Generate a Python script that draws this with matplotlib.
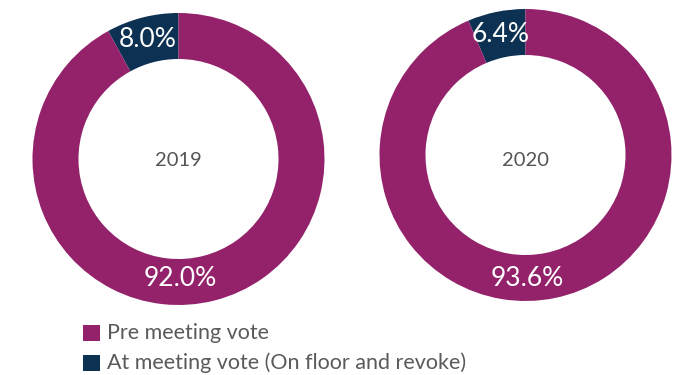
import numpy as np
import matplotlib.pyplot as plt
from matplotlib.patches import Rectangle

plt.rcParams['font.family'] = ['Lato', 'DejaVu Sans']

years = ['2019', '2020']
at_meeting = [8.0, 6.4]
pre_meeting = [92.0, 93.6]
series_names = ['Pre meeting vote', 'At meeting vote (On floor and revoke)']
colors = ['#93226b', '#0c3152']

W, H = 684, 375
centers = [(178.5, 159), (525.5, 155)]
R = 146

fig = plt.figure(figsize=(W / 100, H / 100), dpi=100)

for year, at, pre, (cx, cy) in zip(years, at_meeting, pre_meeting, centers):
	ax = fig.add_axes([(cx - R) / W, (H - cy - R) / H, 2 * R / W, 2 * R / H])
	ax.pie([at, pre], colors=[colors[1], colors[0]], startangle=90,
		counterclock=True, radius=1, wedgeprops=dict(width=0.315, linewidth=0))
	ax.set_xlim(-1, 1)
	ax.set_ylim(-1, 1)
	ax.set_aspect('equal')
	ax.axis('off')

	rmid = 1 - 0.315 / 2
	ang = np.deg2rad(90 + at / 100 * 360 / 2)
	ax.text(rmid * np.cos(ang), rmid * np.sin(ang), '%.1f%%' % at,
		ha='center', va='center', color='white', fontsize=19)
	# big share label and year label sit at the same height in both rings
	fig.text((cx + 2) / W, (H - 278) / H, '%.1f%%' % pre, ha='center', va='center',
		color='white', fontsize=19)
	fig.text(cx / W, (H - 160) / H, year, ha='center', va='center',
		color='#555555', fontsize=14.5)

# legend
rows = [333, 363]
for name, col, y in zip(series_names, colors, rows):
	fig.add_artist(Rectangle((83 / W, (H - y - 8) / H), 17 / W, 16 / H,
		transform=fig.transFigure, color=col, linewidth=0))
	fig.text(107 / W, (H - y) / H, name, ha='left', va='center',
		color='#5a5a5a', fontsize=15.5)

fig.savefig('out.png', dpi=100)
